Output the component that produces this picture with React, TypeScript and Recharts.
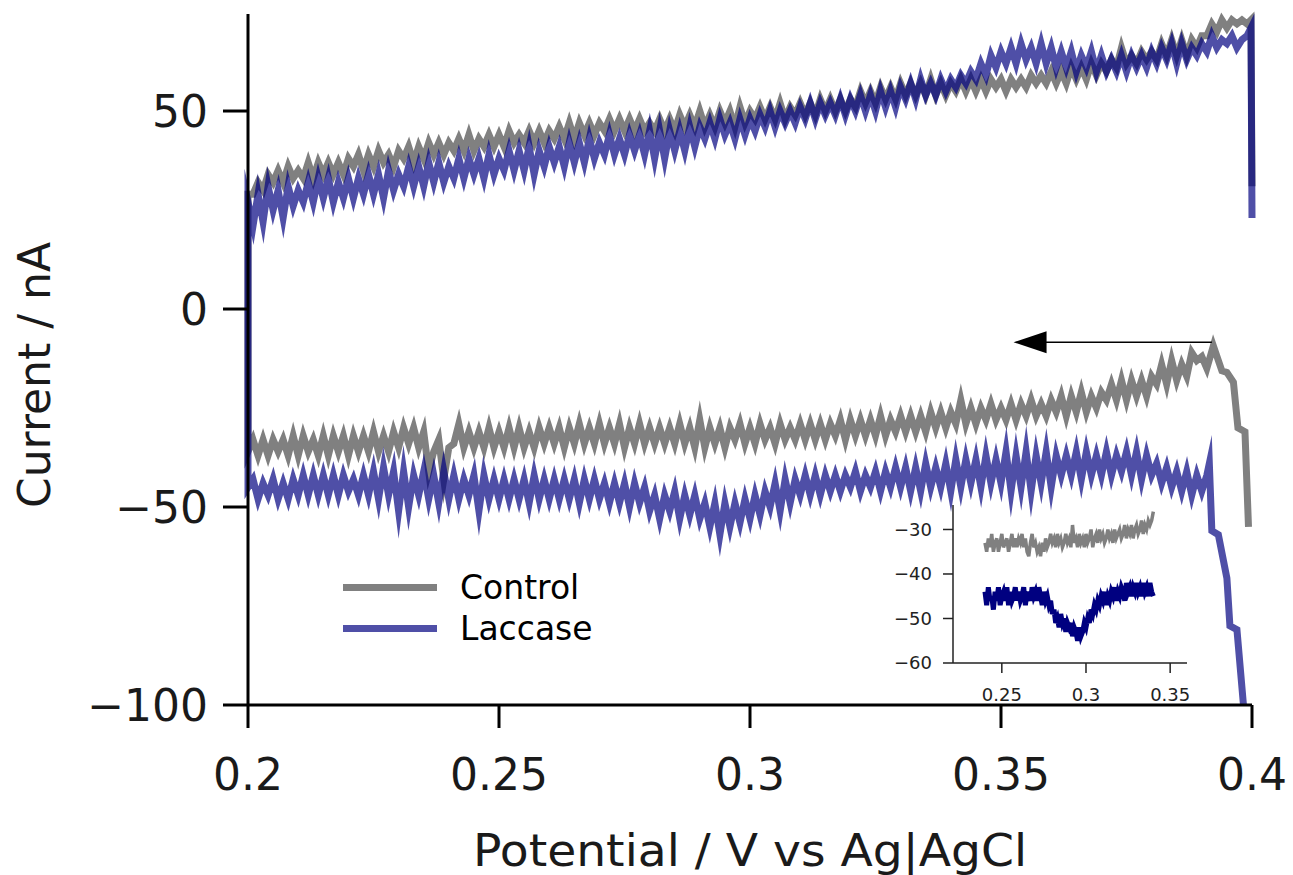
import React from "react";
import { LineChart, Line, XAxis, YAxis, ReferenceLine } from "recharts";

const FONT = "'DejaVu Sans', sans-serif";
const CONTROL_COLOR = "#808080";
const LACCASE_COLOR = "rgba(0,0,128,0.69)";

const seriesNames = ["Control", "Laccase"];

// potential axis
const xTicks = [0.2, 0.25, 0.3, 0.35, 0.4];
const yTicks = [-100, -50, 0, 50];
const insetXTicks = [0.25, 0.3, 0.35];
const insetYTicks = [-60, -50, -40, -30];

const SCAN_STEP = 0.001;
const SWEEP_START = 0.201;
const INSET_START = 0.24;

// start of the record at 0.4 V, where the cathodic sweep begins
const controlStartV = [0.3993, 0.3986, 0.3972, 0.3963, 0.395, 0.394, 0.3923];
const controlStartI = [-55, -31, -30, -18.5, -16, -15.6, -9.3];
const laccaseStartV = [0.3983, 0.397, 0.3956, 0.395, 0.3933, 0.392, 0.3915];
const laccaseStartI = [-100, -81, -80, -68, -57, -56, -39];

// cathodic sweep, listed 0.201 -> 0.391 V (drawn in reverse)
const controlCathodic = [
  -33, -37, -33, -37, -33, -36, -33, -37, -32, -37,
  -32, -36, -33, -37, -32, -37, -32, -36, -32, -37,
  -32, -36, -32, -36, -31, -36, -32, -36, -31, -35,
  -30, -34, -30, -35, -31, -41, -36, -33, -43, -35,
  -34, -29, -35, -31, -35, -31, -35, -30, -35, -31,
  -35, -30, -35, -30, -35, -31, -35, -30, -34, -30,
  -34, -30, -35, -30, -34, -29, -34, -30, -34, -29,
  -34, -30, -34, -29, -35, -30, -34, -29, -34, -30,
  -34, -30, -34, -30, -34, -29, -34, -30, -35, -28,
  -35, -30, -34, -30, -35, -30, -33, -29, -34, -30,
  -34, -29, -33, -30, -34, -29, -33, -30, -33, -29,
  -33, -29, -33, -29, -33, -29, -32, -28, -33, -28,
  -32, -28, -32, -28, -32, -27, -32, -28, -31, -27,
  -31, -27, -31, -27, -31, -26, -30, -26, -30, -26,
  -29, -23, -29, -25, -29, -25, -28, -24, -28, -25,
  -28, -24, -28, -24, -27, -23, -27, -24, -27, -23,
  -26, -22, -27, -22, -26, -21, -26, -22, -25, -21,
  -23, -19, -23, -18, -23, -18, -22, -18, -22, -17,
  -19, -14, -19, -13, -18, -14, -17, -11, -13, -12, -15,
];
const laccaseCathodic = [
  -43, -48, -44, -47, -43, -48, -44, -48, -43, -47,
  -42, -47, -42, -47, -42, -47, -42, -47, -42, -46,
  -43, -47, -42, -47, -41, -48, -40, -47, -41, -51,
  -41, -50, -42, -47, -41, -48, -42, -49, -41, -48,
  -42, -48, -43, -47, -42, -51, -42, -48, -43, -48,
  -43, -48, -43, -48, -43, -49, -42, -48, -43, -48,
  -43, -48, -43, -48, -43, -49, -43, -48, -43, -48,
  -44, -49, -44, -49, -44, -50, -44, -49, -45, -51,
  -47, -53, -47, -51, -46, -53, -47, -52, -47, -53,
  -49, -55, -49, -57, -49, -55, -49, -54, -48, -53,
  -47, -52, -46, -50, -44, -51, -43, -49, -43, -47,
  -42, -47, -42, -47, -42, -46, -42, -46, -42, -45,
  -41, -46, -42, -45, -41, -46, -41, -45, -40, -45,
  -40, -46, -40, -46, -39, -45, -40, -45, -39, -46,
  -38, -45, -38, -44, -38, -45, -37, -44, -38, -44,
  -36, -46, -37, -45, -36, -46, -37, -44, -36, -45,
  -37, -42, -37, -42, -36, -43, -36, -42, -37, -42,
  -36, -42, -37, -41, -36, -42, -36, -43, -37, -42,
  -39, -44, -40, -45, -41, -46, -41, -47, -42, -46, -42,
];

// switching at 0.2 V
const switchV = [0.2, 0.2, 0.2];
const controlSwitchI = [-36, -5, 29];
const laccaseSwitchI = [-45, -5, 27];

// anodic sweep 0.201 -> 0.399 V
const controlAnodic = [
  29, 32, 30, 34, 32, 35, 32, 36, 33, 35,
  33, 37, 33, 37, 34, 37, 34, 37, 34, 38,
  36, 39, 35, 39, 36, 40, 37, 39, 36, 40,
  38, 41, 37, 41, 38, 42, 39, 42, 39, 42,
  40, 43, 40, 44, 40, 43, 41, 44, 41, 44,
  41, 45, 42, 44, 42, 45, 42, 45, 42, 45,
  43, 46, 43, 47, 43, 47, 44, 47, 44, 47,
  45, 48, 45, 48, 45, 48, 45, 48, 45, 47,
  45, 48, 45, 48, 45, 49, 46, 49, 46, 50,
  46, 49, 46, 50, 47, 50, 46, 51, 47, 50,
  48, 51, 48, 51, 48, 52, 48, 51, 49, 52,
  49, 52, 49, 53, 50, 53, 50, 53, 50, 53,
  51, 55, 52, 55, 52, 56, 53, 56, 53, 57,
  54, 57, 54, 57, 54, 58, 54, 57, 54, 57,
  55, 58, 55, 58, 55, 58, 55, 58, 56, 58,
  55, 58, 56, 58, 56, 59, 57, 59, 57, 60,
  57, 60, 57, 61, 58, 61, 58, 62, 59, 62,
  60, 63, 61, 66, 62, 64, 62, 65, 63, 65,
  63, 67, 64, 68, 64, 68, 64, 68, 66, 69,
  69, 72, 70, 73, 71, 73, 72, 73, 72,
];
const laccaseAnodic = [
  21, 29, 22, 31, 25, 30, 23, 31, 26, 30,
  27, 32, 27, 33, 28, 33, 27, 32, 28, 33,
  28, 33, 29, 34, 29, 34, 28, 35, 30, 34,
  31, 36, 31, 36, 31, 37, 32, 37, 32, 36,
  33, 38, 33, 38, 34, 38, 33, 39, 34, 38,
  35, 40, 35, 40, 35, 41, 34, 40, 36, 41,
  37, 41, 36, 42, 37, 42, 37, 43, 38, 42,
  39, 44, 39, 43, 39, 44, 40, 44, 39, 45,
  38, 45, 38, 45, 40, 45, 40, 46, 41, 46,
  43, 47, 43, 48, 44, 47, 43, 48, 44, 48,
  45, 49, 46, 50, 46, 50, 47, 50, 47, 51,
  48, 52, 48, 52, 49, 52, 49, 53, 49, 53,
  50, 54, 50, 54, 50, 55, 51, 55, 51, 56,
  53, 57, 53, 58, 54, 57, 54, 58, 55, 58,
  56, 59, 57, 60, 58, 62, 59, 64, 61, 65,
  62, 66, 62, 67, 63, 66, 62, 67, 62, 66,
  61, 65, 61, 65, 60, 64, 61, 65, 60, 64,
  60, 63, 60, 64, 60, 64, 61, 64, 61, 65,
  62, 66, 63, 67, 62, 67, 63, 66, 64, 67,
  65, 69, 66, 68, 67, 69, 66, 68, 69,
];

// end of the record: reversal at 0.4 V
const endV = [0.3998, 0.4];
const controlEndI = [73, 31];
const laccaseEndI = [71, 23];

// inset: cathodic sweep, 0.240 -> 0.340 V
const insetControl = [
  -33, -35, -32, -34, -31, -35, -33, -32, -35, -33,
  -31, -34, -33, -32, -35, -33, -31, -34, -32, -34,
  -32, -33, -31, -34, -32, -35, -36, -33, -31, -34,
  -33, -35, -34, -36, -33, -35, -32, -34, -33, -31,
  -33, -32, -34, -31, -33, -32, -34, -33, -31, -33,
  -32, -34, -29, -33, -32, -34, -31, -33, -32, -34,
  -31, -33, -32, -30, -34, -32, -31, -33, -30, -32,
  -31, -33, -32, -30, -32, -31, -33, -30, -32, -31,
  -30, -32, -31, -29, -32, -30, -31, -29, -32, -30,
  -29, -31, -30, -28, -31, -29, -30, -28, -29, -28, -26,
];
const insetLaccase = [
  -44, -47, -43, -46, -45, -48, -44, -46, -43, -47,
  -45, -44, -46, -43, -47, -44, -46, -45, -43, -46,
  -44, -46, -45, -43, -47, -44, -45, -46, -43, -45,
  -44, -46, -43, -45, -47, -44, -46, -45, -47, -46,
  -49, -48, -51, -50, -52, -49, -51, -50, -53, -51,
  -52, -51, -54, -52, -53, -55, -52, -54, -53, -51,
  -52, -50, -51, -48, -49, -47, -48, -46, -47, -45,
  -46, -44, -47, -45, -46, -44, -45, -43, -46, -44,
  -45, -43, -44, -46, -42, -44, -43, -45, -43, -44,
  -42, -44, -43, -45, -42, -44, -43, -45, -42, -44, -45,
];

// scan direction arrow
const arrowFrom = { x: 0.392, y: -8.4 };
const arrowTo = { x: 0.3525, y: -8.4 };

const pairs = (v: number[], i: number[]) => v.map((x, k) => ({ v: x, i: i[k] }));
const sweep = (start: number, values: number[]) =>
  values.map((i, k) => ({ v: +(start + k * SCAN_STEP).toFixed(4), i }));

const controlTrace = [
  ...pairs(controlStartV, controlStartI),
  ...sweep(SWEEP_START, controlCathodic).reverse(),
  ...pairs(switchV, controlSwitchI),
  ...sweep(SWEEP_START, controlAnodic),
  ...pairs(endV, controlEndI),
];
const laccaseTrace = [
  ...pairs(laccaseStartV, laccaseStartI),
  ...sweep(SWEEP_START, laccaseCathodic).reverse(),
  ...pairs(switchV, laccaseSwitchI),
  ...sweep(SWEEP_START, laccaseAnodic),
  ...pairs(endV, laccaseEndI),
];
const insetControlTrace = sweep(INSET_START, insetControl);
const insetLaccaseTrace = sweep(INSET_START, insetLaccase);

const minus = (v: number) => String(v).replace("-", "\u2212");

const Arrow = (p: any) => {
  const { x1, y1, x2, y2 } = p;
  return (
    <g>
      <line x1={x1} y1={y1} x2={x2 + 30} y2={y2} stroke="#000" strokeWidth={1.5} />
      <polygon points={`${x2},${y2} ${x2 + 33},${y2 - 11} ${x2 + 33},${y2 + 11}`} fill="#000" />
    </g>
  );
};

const XTitle = () => (
  <text x={750} y={866} textAnchor="middle" fontSize={44} fontFamily={FONT} fill="#1a1a1a" textLength={554} lengthAdjust="spacingAndGlyphs">
    Potential / V vs Ag|AgCl
  </text>
);

const YTitle = () => (
  <text x={50} y={375} transform="rotate(-90 50 375)" textAnchor="middle" fontSize={44} fontFamily={FONT} fill="#1a1a1a">
    Current / nA
  </text>
);

export default function App() {
  const axisStyle = { stroke: "#000", strokeWidth: 3 };
  const insetAxis = { stroke: "#222", strokeWidth: 1.5 };
  return (
    <div style={{ position: "absolute", left: 0, top: 0, width: 1293, height: 875, background: "#fff", fontFamily: FONT }}>
      <LineChart width={1293} height={875} margin={{ top: 14, right: 41, bottom: 0, left: 0 }}>
        <XAxis
          type="number"
          dataKey="v"
          domain={[0.2, 0.4]}
          ticks={xTicks}
          interval={0}
          height={170}
          tickSize={23}
          tickMargin={31}
          axisLine={axisStyle}
          tickLine={axisStyle}
          tick={{ fill: "#1a1a1a", fontSize: 44, fontFamily: FONT }}
          label={{ content: XTitle }}
        />
        <YAxis
          type="number"
          domain={[-100, 74.5]}
          ticks={yTicks}
          interval={0}
          width={248}
          tickSize={25}
          tickMargin={15}
          axisLine={axisStyle}
          tickLine={axisStyle}
          tickFormatter={minus}
          tick={{ fill: "#1a1a1a", fontSize: 44, fontFamily: FONT }}
          label={{ content: YTitle }}
        />
        <Line data={controlTrace} dataKey="i" name={seriesNames[0]} type="linear" stroke={CONTROL_COLOR} strokeWidth={7} strokeMiterlimit={12} dot={false} isAnimationActive={false} />
        <Line data={laccaseTrace} dataKey="i" name={seriesNames[1]} type="linear" stroke={LACCASE_COLOR} strokeWidth={7} strokeMiterlimit={12} dot={false} isAnimationActive={false} />
        <ReferenceLine segment={[arrowFrom, arrowTo]} shape={Arrow} />
      </LineChart>

      <div style={{ position: "absolute", left: 343, top: 567, fontFamily: FONT }}>
        {seriesNames.map((name, k) => (
          <div key={name} style={{ display: "flex", alignItems: "center", height: 41 }}>
            <span style={{ display: "inline-block", width: 94, height: 7, background: k === 0 ? CONTROL_COLOR : LACCASE_COLOR, marginRight: 23 }} />
            <span style={{ fontSize: 33, lineHeight: "41px", color: "#000" }}>{name}</span>
          </div>
        ))}
      </div>

      <div style={{ position: "absolute", left: 870, top: 490 }}>
        <LineChart width={330} height={215} margin={{ top: 15, right: 13, bottom: 0, left: 0 }}>
          <XAxis
            type="number"
            dataKey="v"
            domain={[0.221, 0.36]}
            ticks={insetXTicks}
            interval={0}
            height={42}
            tickSize={10}
            tickMargin={15}
            axisLine={insetAxis}
            tickLine={insetAxis}
            tick={{ fill: "#222", fontSize: 18, fontFamily: FONT }}
          />
          <YAxis
            type="number"
            domain={[-60, -24.5]}
            ticks={insetYTicks}
            interval={0}
            width={83}
            tickSize={10}
            tickMargin={11}
            axisLine={insetAxis}
            tickLine={insetAxis}
            tickFormatter={minus}
            tick={{ fill: "#222", fontSize: 18, fontFamily: FONT }}
          />
          <Line data={insetControlTrace} dataKey="i" type="linear" stroke={CONTROL_COLOR} strokeWidth={3.5} dot={false} isAnimationActive={false} />
          <Line data={insetLaccaseTrace} dataKey="i" type="linear" stroke="#000080" strokeWidth={5} dot={false} isAnimationActive={false} />
        </LineChart>
      </div>
    </div>
  );
}
